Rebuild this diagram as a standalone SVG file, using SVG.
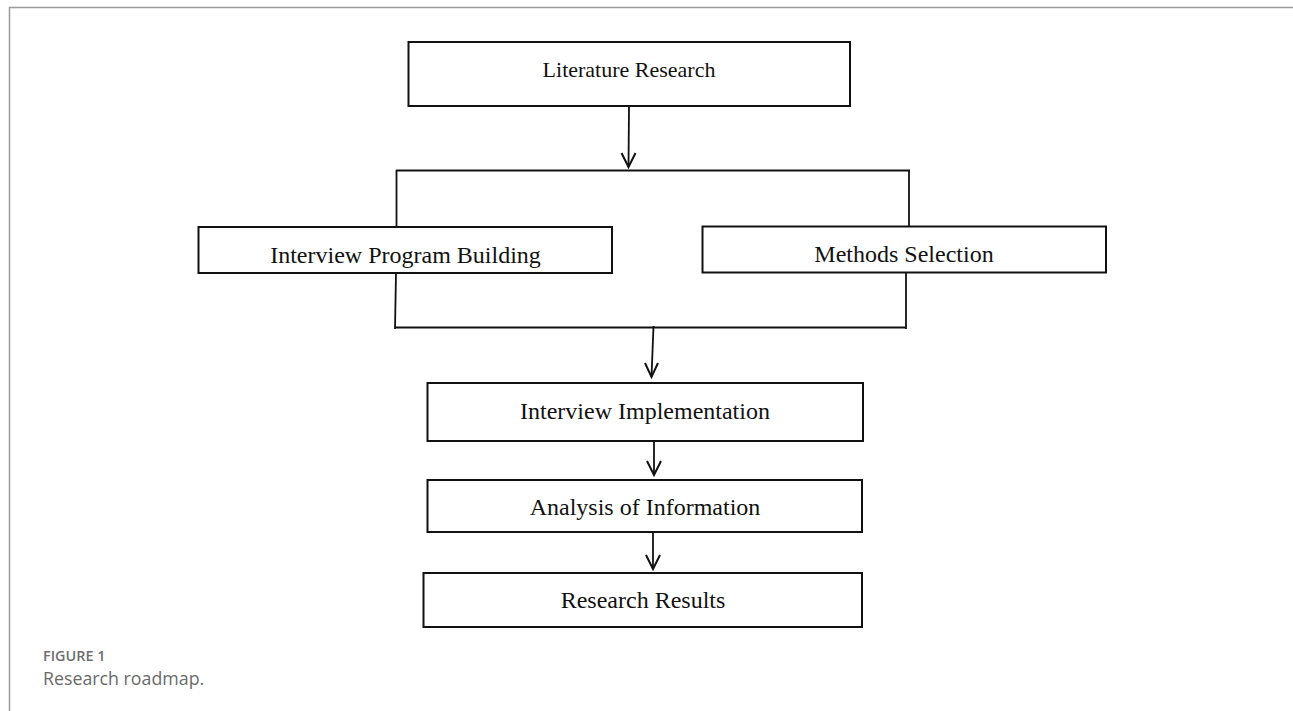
<svg xmlns="http://www.w3.org/2000/svg" width="1293" height="711" viewBox="0 0 1293 711">
<style>
.box{fill:#fff;stroke:#111;stroke-width:2}
.lbl{font-family:"Liberation Serif","Times New Roman",serif;font-size:24px;fill:#111;text-anchor:middle}
.ln{fill:none;stroke:#111;stroke-width:1.8}
.ah{fill:none;stroke:#111;stroke-width:2}
.frame{fill:none;stroke:#9a9a9a;stroke-width:1.5}
</style>
<rect width="1293" height="711" fill="#fff"/>
<path class="frame" d="M9.5,711 V7.5 H1293"/>
<g id="connectors">
  <path class="ln" d="M629,106 L628.5,167"/>
  <path class="ah" d="M621.5,153 L628.5,167 L635.5,153"/>
  <path class="ln" d="M396,170.5 H910"/>
  <path class="ln" d="M396.5,170 V226"/>
  <path class="ln" d="M909,170 V226"/>
  <path class="ln" d="M396,273 L395,329"/>
  <path class="ln" d="M906,273 V329"/>
  <path class="ln" d="M395,327.5 H906"/>
  <path class="ln" d="M653.5,326 L651.5,377"/>
  <path class="ah" d="M645,363 L651.5,377 L658,363"/>
  <path class="ln" d="M654,441 V474"/>
  <path class="ah" d="M647,461 L654,475 L661,461"/>
  <path class="ln" d="M653,532 V569"/>
  <path class="ah" d="M646,555 L653,569 L660,555"/>
</g>
<g id="literature-research">
  <rect class="box" x="408.5" y="42" width="441.5" height="64"/>
  <text class="lbl" x="629" y="77" style="font-size:22px">Literature Research</text>
</g>
<g id="interview-program-building">
  <rect class="box" x="198.5" y="227" width="413.5" height="46"/>
  <text class="lbl" x="405.5" y="263">Interview Program Building</text>
</g>
<g id="methods-selection">
  <rect class="box" x="702.5" y="226.5" width="403.5" height="46"/>
  <text class="lbl" x="904" y="262">Methods Selection</text>
</g>
<g id="interview-implementation">
  <rect class="box" x="427.5" y="383" width="435.5" height="58"/>
  <text class="lbl" x="645" y="419">Interview Implementation</text>
</g>
<g id="analysis-of-information">
  <rect class="box" x="427.5" y="480" width="434.5" height="52"/>
  <text class="lbl" x="645" y="515">Analysis of Information</text>
</g>
<g id="research-results">
  <rect class="box" x="423.5" y="573" width="438.5" height="54"/>
  <text class="lbl" x="643" y="608">Research Results</text>
</g>
<g id="caption">
  <text x="43" y="661" style="font-family:'Open Sans','Noto Sans',sans-serif;font-size:14.4px;font-weight:600;fill:#6e6e6e">FIGURE 1</text>
  <text x="43" y="685" style="font-family:'Open Sans','Noto Sans',sans-serif;font-size:17.8px;fill:#6a6a6a">Research roadmap.</text>
</g>
</svg>
